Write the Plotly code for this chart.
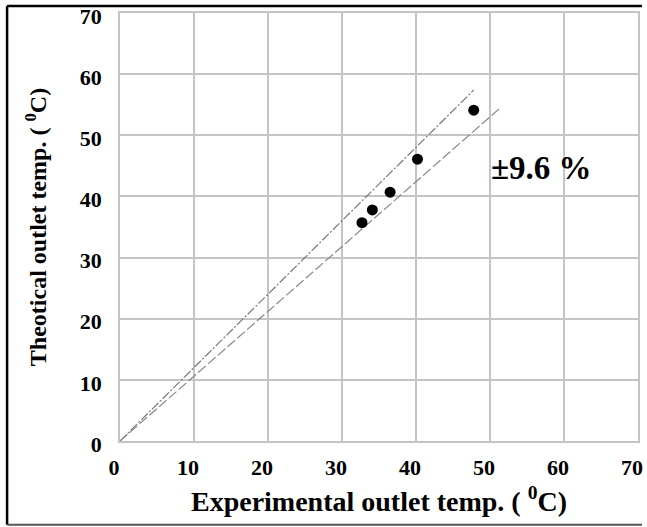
import plotly.graph_objects as go

# Data
exp_temp = [32.7, 34.1, 36.5, 40.2, 47.8]
theo_temp = [35.7, 37.8, 40.7, 46.1, 54.1]
upper_x = [0, 47.8]
upper_y = [0, 57.4]
lower_x = [0, 51.5]
lower_y = [0, 54.6]
tick_vals = [0, 10, 20, 30, 40, 50, 60, 70]

W, H = 647, 527
ml, mr, mt, mb = 120, 4, 12, 86
pw, ph = W - ml - mr, H - mt - mb

def px(x):
    return (x - ml) / pw

def py(y):
    return (H - mb - y) / ph

fig = go.Figure()
fig.add_trace(go.Scatter(x=upper_x, y=upper_y, mode="lines",
                         line=dict(color="#777777", width=1.2, dash="9px,2px,2px,2px"),
                         showlegend=False))
fig.add_trace(go.Scatter(x=lower_x, y=lower_y, mode="lines",
                         line=dict(color="#888888", width=1.2, dash="10px,3px"),
                         showlegend=False))
fig.add_trace(go.Scatter(x=exp_temp, y=theo_temp, mode="markers",
                         marker=dict(color="black", size=11),
                         showlegend=False))

fig.add_annotation(x=49.8, y=44.7, xref="x", yref="y", text="±9.6 %",
                   showarrow=False, xanchor="left", yanchor="middle",
                   font=dict(family="Liberation Serif", size=33, color="black", weight="bold"))

tickfont = dict(family="Liberation Serif", size=22, color="black", weight="bold")
axis_common = dict(range=[0, 70], tickvals=tick_vals, showgrid=True,
                   gridcolor="#c4c4c4", gridwidth=1.6, zeroline=False,
                   showline=True, linecolor="#c4c4c4", linewidth=1.6, mirror=True,
                   ticks="", tickfont=tickfont, ticklabeloverflow="allow")

fig.update_xaxes(**axis_common,
                 title=dict(text="Experimental outlet temp. ( <sup>0</sup>C)", standoff=12,
                            font=dict(family="Liberation Serif", size=28, color="black", weight="bold")),
                 ticklabelstandoff=6, ticklabelshift=-6)
fig.update_yaxes(**axis_common,
                 title=dict(text="Theotical outlet temp. ( <sup>0</sup>C)", standoff=26,
                            font=dict(family="Liberation Serif", size=24, color="black", weight="bold")),
                 ticklabelstandoff=12, ticklabelshift=3)

# outer frame lines
frame = dict(type="line", xref="paper", yref="paper", line=dict(color="black", width=2.5), layer="above")
fig.add_shape(**frame, x0=px(6), y0=py(5), x1=px(647), y1=py(5))
fig.add_shape(**frame, x0=px(6), y0=py(5), x1=px(6), y1=py(525))
fig.add_shape(type="line", xref="paper", yref="paper", line=dict(color="#555555", width=2),
              x0=px(6), y0=py(525), x1=px(647), y1=py(525))

fig.update_layout(width=W, height=H, margin=dict(l=ml, r=mr, t=mt, b=mb),
                  plot_bgcolor="white", paper_bgcolor="white",
                  font=dict(family="Liberation Serif", color="black"))

fig.write_html("out.html")
